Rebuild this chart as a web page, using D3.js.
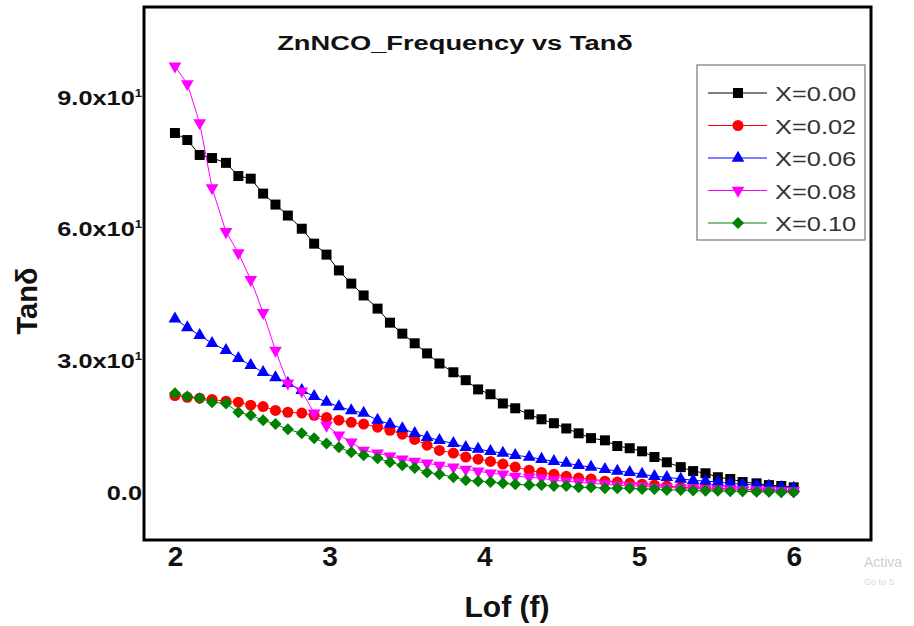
<!DOCTYPE html>
<html>
<head>
<meta charset="utf-8">
<script src="https://cdn.jsdelivr.net/npm/d3@7"></script>
<style>
  body { margin: 0; background: #fff; }
  svg { display: block; font-family: Arial, "Liberation Sans", sans-serif; }
</style>
</head>
<body>
<div id="chart"></div>
<script>
// log of frequency
const logF = [2.00, 2.08, 2.16, 2.24, 2.33, 2.41, 2.49, 2.57, 2.65, 2.73,
  2.82, 2.90, 2.98, 3.06, 3.14, 3.22, 3.31, 3.39, 3.47, 3.55,
  3.63, 3.71, 3.80, 3.88, 3.96, 4.04, 4.12, 4.20, 4.29, 4.37,
  4.45, 4.53, 4.61, 4.69, 4.78, 4.86, 4.94, 5.02, 5.10, 5.18,
  5.27, 5.35, 5.43, 5.51, 5.59, 5.67, 5.76, 5.84, 5.92, 6.00];

const tan000 = [81.8, 80.2, 76.8, 76.1, 75.0, 72.0, 71.4, 68.0, 65.5, 63.0,
  60.0, 56.6, 54.1, 50.5, 47.5, 44.8, 41.8, 38.6, 36.1, 33.9,
  31.6, 29.3, 27.3, 25.5, 23.4, 22.3, 20.2, 19.1, 17.7, 16.6,
  15.7, 14.5, 13.4, 12.3, 11.8, 10.5, 10.0, 9.3, 8.0, 6.8,
  5.7, 4.8, 4.3, 3.4, 3.0, 2.3, 2.0, 1.6, 1.4, 1.1];
const tan002 = [22.0, 21.6, 21.4, 21.1, 20.7, 20.5, 19.8, 19.5, 18.6, 18.2,
  18.0, 17.5, 17.0, 16.4, 15.9, 15.5, 14.8, 14.1, 13.2, 12.0,
  10.7, 9.5, 8.9, 8.0, 7.5, 7.0, 6.4, 5.7, 5.0, 4.5,
  4.1, 3.6, 3.2, 3.0, 2.5, 2.3, 2.0, 1.8, 1.6, 1.4,
  1.1, 1.1, 0.9, 0.9, 0.7, 0.7, 0.5, 0.5, 0.4, 0.3];
const tan006 = [39.5, 37.5, 35.7, 33.9, 32.3, 30.5, 28.9, 27.3, 26.1, 24.8,
  23.2, 21.8, 20.5, 19.5, 18.6, 18.0, 16.4, 15.5, 14.5, 13.4,
  12.5, 11.8, 11.1, 10.2, 9.8, 9.3, 8.9, 8.4, 8.0, 7.5,
  7.0, 6.6, 6.1, 5.7, 5.2, 4.8, 4.5, 4.1, 3.6, 3.4,
  3.0, 2.7, 2.5, 2.3, 2.0, 1.8, 1.6, 1.4, 1.1, 0.9];
const tan008 = [97.0, 93.0, 84.1, 69.3, 59.3, 54.5, 48.4, 40.9, 32.3, 24.8,
  23.0, 18.0, 15.2, 13.0, 11.4, 9.5, 8.9, 8.2, 7.5, 7.0,
  6.6, 6.1, 5.7, 5.2, 4.8, 4.3, 4.1, 3.6, 3.4, 3.2,
  2.7, 2.5, 2.3, 2.0, 1.8, 1.6, 1.4, 1.4, 1.1, 1.1,
  0.9, 0.9, 0.7, 0.7, 0.7, 0.5, 0.5, 0.4, 0.3, 0.3];
const tan010 = [22.5, 21.8, 21.4, 20.5, 20.2, 18.2, 17.5, 16.4, 15.5, 14.3,
  13.4, 12.3, 11.1, 10.2, 9.1, 8.4, 7.7, 6.8, 6.1, 5.5,
  4.5, 4.1, 3.4, 2.7, 2.5, 2.3, 2.0, 1.8, 1.6, 1.6,
  1.4, 1.4, 1.1, 1.1, 0.9, 0.9, 0.9, 0.7, 0.7, 0.5,
  0.5, 0.4, 0.3, 0.3, 0.2, 0.2, 0.1, 0.1, 0.0, 0.0];

const seriesNames = ["X=0.00", "X=0.02", "X=0.06", "X=0.08", "X=0.10"];
const seriesColors = ["#000000", "#ff0000", "#0000ff", "#ff00ff", "#008000"];
const xTicks = [2, 3, 4, 5, 6];
const yTicks = [0, 30, 60, 90];

const width = 914, height = 626;
const margin = { top: 7, right: 43, bottom: 86, left: 144 };

// diamond that is as wide as it is tall
const squareDiamond = {
  draw(ctx, size) {
    const r = Math.sqrt(size / 2);
    ctx.moveTo(0, -r); ctx.lineTo(r, 0); ctx.lineTo(0, r); ctx.lineTo(-r, 0); ctx.closePath();
  }
};
const markers = [
  { type: d3.symbolSquare, size: 100, rot: 0 },
  { type: d3.symbolCircle, size: 95, rot: 0 },
  { type: d3.symbolTriangle, size: 70, rot: 0 },
  { type: d3.symbolTriangle, size: 70, rot: 180 },
  { type: squareDiamond, size: 72, rot: 0 }
];

const series = [tan000, tan002, tan006, tan008, tan010].map((vals, i) => ({
  name: seriesNames[i],
  color: seriesColors[i],
  marker: markers[i],
  points: vals.map((v, j) => ({ x: logF[j], y: v }))
}));

const svg = d3.select("#chart").append("svg")
  .attr("width", width)
  .attr("height", height);

const xScale = d3.scaleLinear().domain([1.8, 6.5])
  .range([margin.left, width - margin.right]);
const yScale = d3.scaleLinear().domain([-10.9, 110.5])
  .range([height - margin.bottom, margin.top]);

const line = d3.line().x(d => xScale(d.x)).y(d => yScale(d.y));

// series
series.forEach(s => {
  const g = svg.append("g");
  g.append("path")
    .attr("d", line(s.points))
    .attr("fill", "none")
    .attr("stroke", s.color)
    .attr("stroke-width", 1);
  g.selectAll("path.pt")
    .data(s.points)
    .enter().append("path")
    .attr("class", "pt")
    .attr("d", d3.symbol().type(s.marker.type).size(s.marker.size))
    .attr("transform", d => `translate(${xScale(d.x)},${yScale(d.y)}) rotate(${s.marker.rot})`)
    .attr("fill", s.color);
});

// frame
svg.append("rect")
  .attr("x", margin.left)
  .attr("y", margin.top)
  .attr("width", width - margin.left - margin.right)
  .attr("height", height - margin.top - margin.bottom)
  .attr("fill", "none")
  .attr("stroke", "#000")
  .attr("stroke-width", 3);

// x axis
const xAxis = svg.append("g")
  .attr("transform", `translate(0,${height - margin.bottom})`)
  .call(d3.axisBottom(xScale).tickValues(xTicks).tickSize(0).tickFormat(d3.format("d")));
xAxis.select(".domain").remove();
xAxis.selectAll("text")
  .attr("y", 26)
  .attr("dy", null)
  .attr("fill", "#111")
  .style("font-size", "28px")
  .style("font-weight", "bold")
  .style("font-family", "Arial, 'Liberation Sans', sans-serif");

// y axis
const yAxis = svg.append("g")
  .attr("transform", `translate(142,0)`)
  .call(d3.axisLeft(yScale).tickValues(yTicks).tickSize(0));
yAxis.select(".domain").remove();
yAxis.selectAll("text")
  .text(null)
  .attr("x", 0)
  .attr("y", 7)
  .attr("dy", null)
  .attr("fill", "#111")
  .attr("transform", "scale(1.3,1)")
  .style("font-size", "19.5px")
  .style("font-weight", "bold")
  .style("font-family", "Arial, 'Liberation Sans', sans-serif")
  .each(function(d) {
    const t = d3.select(this);
    if (d === 0) {
      t.append("tspan").text("0.0");
    } else {
      t.append("tspan").text((d / 10).toFixed(1) + "x10");
      t.append("tspan").text("1").attr("dy", -8).style("font-size", "10px");
    }
  });

// title
svg.append("text")
  .attr("transform", "translate(455,50) scale(1.3,1)")
  .attr("text-anchor", "middle")
  .style("font-size", "21px")
  .style("font-weight", "bold")
  .attr("fill", "#111")
  .text("ZnNCO_Frequency vs Tanδ");

// axis titles
svg.append("text")
  .attr("x", 507)
  .attr("y", 617)
  .attr("text-anchor", "middle")
  .style("font-size", "30px")
  .style("font-weight", "bold")
  .attr("fill", "#111")
  .text("Lof (f)");

svg.append("text")
  .attr("transform", "translate(37,301) rotate(-90)")
  .attr("text-anchor", "middle")
  .style("font-size", "29px")
  .style("font-weight", "bold")
  .attr("fill", "#111")
  .text("Tanδ");

// legend
const legend = svg.append("g");
legend.append("rect")
  .attr("x", 697).attr("y", 65)
  .attr("width", 168).attr("height", 175)
  .attr("fill", "#fff")
  .attr("stroke", "#777")
  .attr("stroke-width", 1.2);

const legendRows = legend.selectAll("g.row")
  .data(series)
  .enter().append("g")
  .attr("class", "row")
  .attr("transform", (d, i) => `translate(0,${93 + i * 32.5})`);
legendRows.append("line")
  .attr("x1", 708).attr("x2", 767)
  .attr("stroke", d => d.color)
  .attr("stroke-width", 1);
legendRows.append("path")
  .attr("d", d => d3.symbol().type(d.marker.type).size(d.marker.size)())
  .attr("transform", d => `translate(738,0) rotate(${d.marker.rot})`)
  .attr("fill", d => d.color);
legendRows.append("text")
  .attr("transform", "translate(775,8) scale(1.27,1)")
  .style("font-size", "20px")
  .attr("fill", "#333")
  .text(d => d.name);

// faint watermark at bottom right, only the part that shows
svg.append("text")
  .attr("x", 864).attr("y", 567)
  .style("font-size", "14px")
  .attr("fill", "#d0d0d0")
  .text("Activa");
svg.append("text")
  .attr("x", 864).attr("y", 585)
  .style("font-size", "9px")
  .attr("fill", "#d8d8d8")
  .text("Go to S");
</script>
</body>
</html>
